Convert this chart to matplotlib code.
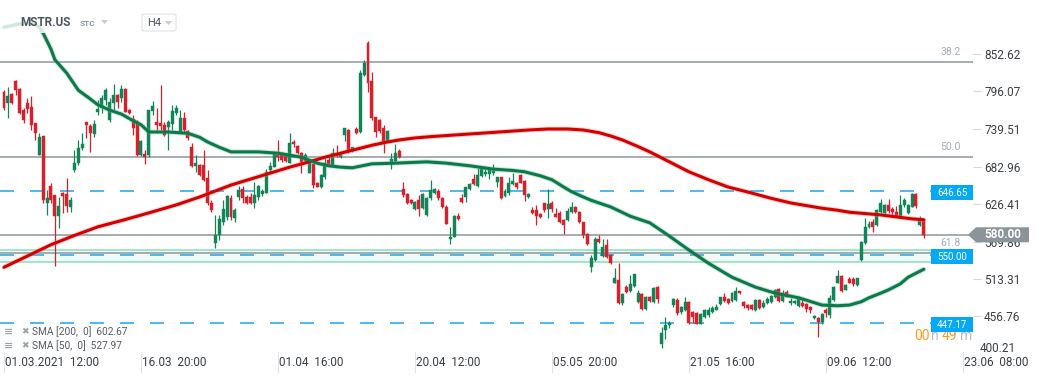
import matplotlib
matplotlib.use("Agg")
import matplotlib.pyplot as plt
from matplotlib.patches import Rectangle, Polygon, FancyBboxPatch

plt.rcParams['font.family'] = ['Roboto', 'DejaVu Sans']

# ---------------- data ----------------
opens = [795,779,792,812,800,768,779,773,748,700,
 729,628,653,640,608,643,641,622,678,688,
 711,750,744,732,765,773,783,753,779,791,
 786,800,768,755,750,700,702,700,767,750,
 749,746,742,747,764,735,756,736,712,684,
 685,685,666,628,567,580,599,607,635,605,
 637,649,637,637,628,637,641,643,678,682,
 700,700,700,688,720,714,703,691,673,687,
 658,652,667,693,685,703,697,730,738,706,
 740,735,821,869,812,757,753,741,721,687,
 691,706,649,641,632,619,632,620,610,635,
 643,646,635,622,574,577,608,635,637,649,
 664,653,668,671,671,673,659,667,638,643,
 656,658,670,661,637,617,617,611,628,619,
 628,611,613,602,602,614,622,614,599,581,
 532,542,574,548,565,549,507,512,477,501,
 495,503,479,491,468,486,479,501,416,436,
 444,474,481,463,466,478,463,462,445,456,
 459,463,467,475,486,483,480,481,495,478,
 474,474,467,482,471,477,479,486,498,480,
 494,477,477,472,477,476,471,454,455,448,
 467,459,481,508,518,497,513,513,504,542,
 567,592,599,595,614,613,625,619,614,607,
 625,613,622,641,595,602]
highs = [798,803,794,813,802,771,786,789,749,733,
 729,647,658,640,637,644,666,637,708,723,
 733,750,747,753,783,791,801,786,807,792,
 806,801,769,761,753,723,708,768,782,771,
 806,750,753,776,776,768,765,738,718,700,
 687,708,678,632,610,610,632,640,640,620,
 653,653,640,643,659,655,649,679,690,705,
 723,705,702,733,723,715,705,703,693,688,
 660,672,696,699,711,715,705,741,740,713,
 742,828,843,872,825,757,754,745,738,703,
 717,709,659,643,634,631,640,643,637,662,
 650,649,637,625,592,610,613,641,652,658,
 671,681,681,681,682,687,667,667,649,667,
 673,659,671,662,643,622,625,613,628,649,
 631,620,616,604,620,629,623,616,599,583,
 550,577,580,574,574,551,530,537,492,504,
 519,521,497,492,488,488,501,502,441,456,
 450,484,484,472,486,480,465,463,462,468,
 471,472,475,486,492,485,494,501,495,480,
 475,475,483,483,482,486,489,498,500,497,
 497,484,481,486,484,477,473,459,456,462,
 469,489,502,527,519,506,516,516,515,571,
 605,601,604,619,634,626,634,622,623,640,
 635,626,643,643,608,604]
lows = [768,756,777,791,762,749,764,738,723,700,
 628,610,628,533,590,613,614,614,675,685,
 708,726,705,727,761,764,776,750,768,771,
 780,765,762,730,699,699,687,697,761,738,
 738,729,708,738,761,733,733,723,682,675,
 669,661,625,614,560,572,595,602,602,599,
 632,628,626,626,620,632,638,643,675,682,
 691,690,690,688,712,702,673,690,673,650,
 652,650,664,685,683,697,696,721,703,705,
 732,733,819,795,753,727,733,703,720,679,
 690,696,637,626,626,617,608,619,608,632,
 641,632,620,596,566,576,602,628,629,647,
 655,652,667,668,664,670,652,634,637,640,
 655,649,658,631,635,611,595,605,614,605,
 614,607,598,581,601,613,613,598,575,564,
 524,540,567,546,545,536,507,476,474,492,
 494,501,477,467,467,479,477,477,409,423,
 439,471,459,460,465,445,447,445,445,454,
 456,462,466,474,478,475,478,480,490,469,
 467,467,465,468,469,475,477,485,479,479,
 486,474,475,471,471,463,462,453,426,446,
 456,454,480,507,493,497,507,503,503,540,
 566,590,584,593,613,611,613,607,607,607,
 622,611,622,620,593,575]
closes = [771,789,779,798,764,753,770,746,733,727,
 632,635,632,608,623,638,623,632,688,711,
 717,746,733,747,770,786,798,780,791,780,
 800,765,764,741,700,721,697,768,774,746,
 744,730,750,767,771,756,738,726,684,688,
 670,663,628,617,580,604,619,638,607,617,
 647,635,628,628,640,653,646,675,684,703,
 697,693,691,718,717,703,690,700,690,655,
 652,670,688,687,703,699,703,741,705,712,
 733,824,839,809,756,735,736,720,736,694,
 703,697,640,628,628,629,619,641,635,647,
 649,635,622,597,577,608,604,629,652,656,
 656,670,679,674,679,676,667,635,646,658,
 661,652,658,640,641,613,608,607,617,626,
 619,607,599,595,616,622,614,599,580,566,
 545,574,569,562,546,537,515,477,491,494,
 506,521,492,468,486,480,500,483,432,444,
 447,483,462,471,478,447,456,445,460,467,
 467,469,471,486,480,477,492,495,492,472,
 469,468,482,470,477,483,488,497,480,492,
 486,480,480,486,472,468,467,457,448,460,
 462,484,501,518,495,504,507,506,515,569,
 592,596,592,617,628,625,616,614,607,625,
 632,625,641,623,601,580]

sma200_idx = [0,6,12,18,24,31,37,44,50,54,58,63,68,73,78,82,86,90,94,98,101,105,109,114,119,124,129,134,139,144,148,152,155,158,162,165,170,175,180,185,191,196,201,205,209,213,216,220,224,228,232,235]
sma200_val = [531,548,565,579,592,603,613,625,637,646,655,664,673,682,690,697,703,709,715,720,723,726,728,730,732,734,736,738,739.5,739.5,738,734,729,723,713,705,690,675,663,652,643,635,628,624,620,617,614,612,610,607,604,602.67]
sma50_idx = [0,4,7,9,10,12,13,16,19,22,24,27,30,33,35,37,42,47,50,52,55,58,62,65,70,74,76,80,83,86,89,94,100,108,113,119,125,130,133,137,140,143,145,148,150,155,160,165,170,175,180,186,192,197,203,209,213,216,219,221,224,226,229,231,233,235]
sma50_val = [893,898,899,894,884,860,844,824,798,785,776,768,762,752,746,735,735,733,727,720,712,705,705,705,703,699,697,688,684,682,681,687,688,690,688,684,679,677,675,669,663,652,645,637,632,622,608,598,578,557,537,516,501,492,485,474,473,474,479,485,492,497,506,516,522,527.97]

price_ticks = [456.76, 513.31, 569.86, 626.41, 682.96, 739.51, 796.07, 852.62]
bottom_tick = 400.21
date_idx = [0, 35, 70, 105, 140, 175, 210, 245]
date_labels = ["01.03.2021  12:00", "16.03  20:00", "01.04  16:00", "20.04  12:00",
               "05.05  20:00", "21.05  16:00", "09.06  12:00", "23.06  08:00"]
fib_levels = [840.6, 697.3, 552.5]
fib_labels = ["38.2", "50.0", "61.8"]
last_price = 580.00
levels = [646.65, 550.00, 447.17]
zone = (539.0, 557.0)
sma200_last = 602.67
sma50_last = 527.97

# ---------------- figure ----------------
W, H = 1041, 380
fig = plt.figure(figsize=(W/100, H/100), dpi=100)
ax = fig.add_axes([0, 25/H, 973/W, 355/H])
ax.set_xlim(-1.02, 247.57)
ax.set_ylim(398.7, 934.05)
for s in ax.spines.values():
    s.set_visible(False)
ax.set_xticks([])
ax.yaxis.tick_right()
ax.set_yticks(price_ticks)
ax.set_yticklabels([f"{v:.2f}" for v in price_ticks])
ax.tick_params(axis='y', length=6, width=0.8, color='#d5d9dc', labelsize=8.5,
               labelcolor='#3a3f44', pad=2)

def P(x, y):
    return (x / W, 1 - y / H)

def ypix(v):
    return H - fig.transFigure.inverted().transform(ax.transData.transform((0, v)))[1] * H

GREEN = '#138457'
RED = '#d81f2c'

# zone rectangle
ax.add_patch(Rectangle((-2, zone[0]), 239.1, zone[1]-zone[0], facecolor='#f1faf6',
                       edgecolor='#93e0c2', lw=1.2, zorder=1))
# fib + last price lines
for v in fib_levels:
    ax.axhline(v, color='#8e979d', lw=1.1, zorder=2)
ax.axhline(last_price, color='#8e979d', lw=1.1, zorder=2)
# dashed levels
for v in levels:
    ax.plot([-1.02, 237], [v, v], color='#29aef0', lw=1.2, ls=(0, (8.4, 9.6)), zorder=2)

# candles
for i, (o, h, l, c) in enumerate(zip(opens, highs, lows, closes)):
    col = GREEN if c >= o else RED
    ax.vlines(i, l, h, color=col, lw=0.9, zorder=3)
    lo, hi = min(o, c), max(o, c)
    ax.add_patch(Rectangle((i - 0.38, lo), 0.76, max(hi - lo, 1.2), facecolor=col,
                           edgecolor=col, lw=0.3, zorder=4))

# SMA lines
ax.plot(sma200_idx, sma200_val, color='#f08080', lw=3.6, alpha=0.35, zorder=5,
        solid_capstyle='round', solid_joinstyle='round')
ax.plot(sma200_idx, sma200_val, color='#d40000', lw=2.2, zorder=6,
        solid_capstyle='round', solid_joinstyle='round')
ax.plot(sma50_idx, sma50_val, color='#5fb08a', lw=3.6, alpha=0.35, zorder=5,
        solid_capstyle='round', solid_joinstyle='round')
ax.plot(sma50_idx, sma50_val, color='#0b7a4a', lw=2.2, zorder=6,
        solid_capstyle='round', solid_joinstyle='round')

# header overlay
fig.patches.append(Rectangle(P(0, 33), 200/W, 26/H, transform=fig.transFigure,
                             facecolor='white', alpha=0.82, edgecolor='none', zorder=10))
fig.text(*P(20, 23), "MSTR.US", fontsize=8.5, fontweight='bold', color='#4b5560', va='center', zorder=11)
fig.text(*P(80, 24), "STC", fontsize=6, fontweight='bold', color='#8a9aa6', va='center', zorder=11)
fig.patches.append(Polygon([P(101, 20), P(108, 20), P(104.5, 24)], closed=True, transform=fig.transFigure,
                           facecolor='#c5ccd0', edgecolor='none', zorder=11))
fig.patches.append(FancyBboxPatch(P(142, 31), 34/W, 17/H, boxstyle="round,pad=0,rounding_size=0.004",
                                  transform=fig.transFigure, facecolor='white', edgecolor='#dfe3e6',
                                  lw=0.8, zorder=11))
fig.text(*P(147, 23), "H4", fontsize=8, color='#4b5560', va='center', zorder=12)
fig.patches.append(Polygon([P(165, 21), P(172, 21), P(168.5, 25)], closed=True, transform=fig.transFigure,
                           facecolor='#c5ccd0', edgecolor='none', zorder=12))

# fib labels
for v, t in zip(fib_levels, fib_labels):
    ax.text(244.5, v + 7, t, fontsize=7.5, color='#a3acb3', ha='right', va='bottom', zorder=7)

# level boxes
for v in levels:
    yc = ypix(v) + 2
    fig.patches.append(Rectangle(P(931, yc + 7.5), 42/W, 15/H, transform=fig.transFigure,
                                 facecolor='#03a9f4', edgecolor='none', zorder=12))
    fig.text(*P(952, yc), f"{v:.2f}", fontsize=7, color='white', ha='center', va='center', zorder=13)

# last price box
ypl = ypix(last_price)
fig.patches.append(Polygon([P(968, ypl), P(976, ypl - 7.5), P(1029, ypl - 7.5), P(1029, ypl + 7.5),
                            P(976, ypl + 7.5)], closed=True, transform=fig.transFigure,
                           facecolor='#8b9499', edgecolor='none', zorder=12))
fig.text(*P(1003, ypl), f"{last_price:.2f}", fontsize=8.5, fontweight='bold', color='white',
         ha='center', va='center', zorder=13)

# bottom price label
fig.text(*P(980, 348), f"{bottom_tick:.2f}", fontsize=8.5, color='#3a3f44', va='center')

# timer text
fig.text(*P(914, 336), "00", fontsize=10, color='#ff9a1f', va='center', zorder=11)
fig.text(*P(931, 336), "h", fontsize=10, color='#b5bcc2', va='center', zorder=11)
fig.text(*P(942, 336), "49", fontsize=10, color='#ff9a1f', va='center', zorder=11)
fig.text(*P(960, 336), "m", fontsize=10, color='#b5bcc2', va='center', zorder=11)

# legend
for k, (lbl, val) in enumerate([("SMA [200,  0]", sma200_last), ("SMA [50,  0]", sma50_last)]):
    y = 332 + k * 14
    fig.text(*P(4, y), "≡", fontsize=8, color='#9aa3a9', va='center', fontweight='bold',
             family='DejaVu Sans')
    fig.text(*P(21, y), "✖", fontsize=6.5, color='#9aa3a9', va='center', family='DejaVu Sans')
    fig.text(*P(32, y), f"{lbl}  {val:.2f}", fontsize=7.3, color='#555c62', va='center')

# date labels
for idx, lab in zip(date_idx, date_labels):
    xp = 4 + idx * 3.914
    fig.add_artist(plt.Line2D([xp / W, xp / W], [1 - 352 / H, 1 - 372 / H], color='#e2e5e7', lw=0.8))
    fig.text(*P(xp + 1, 362), lab, fontsize=8.5, color='#3a3f44', va='center', ha='left')

fig.savefig("out.png", dpi=100)
